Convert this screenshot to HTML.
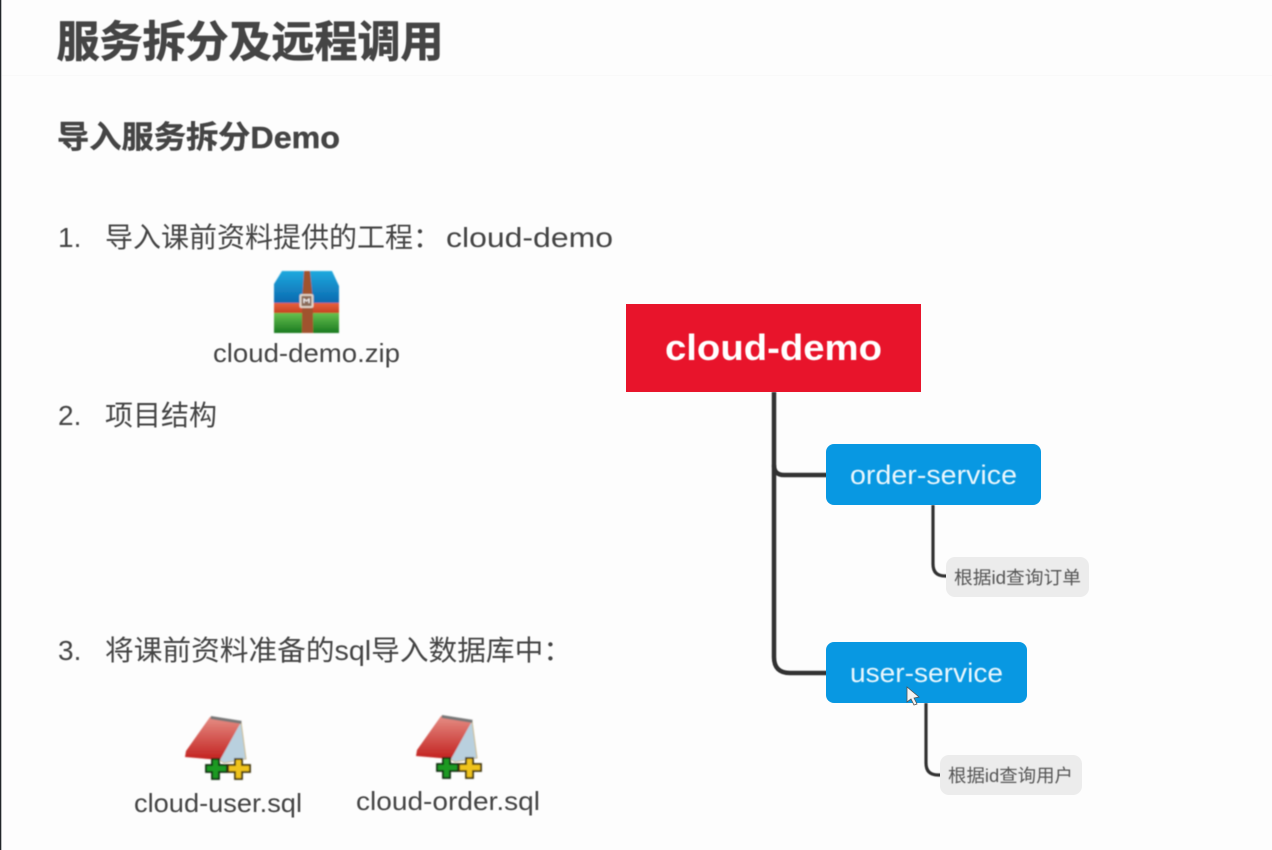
<!DOCTYPE html>
<html lang="zh">
<head>
<meta charset="utf-8">
<title>服务拆分及远程调用</title>
<style>
html,body{margin:0;padding:0;background:#fdfdfd;}
svg{display:block;}
text{font-family:"Liberation Sans","Noto Sans CJK SC",sans-serif;}
</style>
</head>
<body>
<svg width="1272" height="850" viewBox="0 0 1272 850" xmlns="http://www.w3.org/2000/svg">
<defs>
<filter id="b" x="-5%" y="-20%" width="110%" height="140%"><feGaussianBlur stdDeviation="0.6"/></filter>
<filter id="b2" x="-10%" y="-10%" width="120%" height="120%"><feGaussianBlur stdDeviation="0.7"/></filter>
<linearGradient id="blue" x1="0" y1="0" x2="0" y2="1"><stop offset="0" stop-color="#1fa9de"/><stop offset="1" stop-color="#0a66ae"/></linearGradient>
<linearGradient id="red2" x1="0" y1="0" x2="0" y2="1"><stop offset="0" stop-color="#e8603c"/><stop offset="1" stop-color="#c23e20"/></linearGradient>
<linearGradient id="green" x1="0" y1="0" x2="0" y2="1"><stop offset="0" stop-color="#66c04e"/><stop offset="1" stop-color="#1a7a20"/></linearGradient>
<linearGradient id="note" x1="0" y1="0" x2="0" y2="1"><stop offset="0" stop-color="#e58d84"/><stop offset="1" stop-color="#c2201e"/></linearGradient>
<g id="noteicon">
  <polygon points="241,722 246,759 224,763 216,758" fill="#b9d0de" stroke="#c9b98c" stroke-width="1"/>
  <polygon points="210,717 241,722 220,760 185,757 186,751" fill="url(#note)"/>
  <rect x="211" y="716" width="31" height="3" fill="#777" transform="rotate(9 211 716)"/>
  <path d="M212 759h7v6h8v7h-8v7h-7v-7h-6v-7h6z" fill="#1f9a22" stroke="#0c2a10" stroke-width="1.8"/>
  <path d="M235 759h7v6h8v7h-8v7h-7v-7h-7v-7h7z" fill="#efc31e" stroke="#3d3008" stroke-width="1.8"/>
</g>
</defs>

<rect width="1272" height="850" fill="#fdfdfd"/>
<rect x="0" y="0" width="1.3" height="850" fill="#22262a"/>
<rect x="2" y="75" width="1270" height="1" fill="#f9f9f9"/>

<g filter="url(#b)" fill="#454545">
  <text x="56.5" y="57" font-size="43" font-weight="700" stroke="#454545" stroke-width="0.7" textLength="387" lengthAdjust="spacingAndGlyphs">服务拆分及远程调用</text>
  <text x="57" y="148" font-size="31" font-weight="700" stroke="#454545" stroke-width="0.4" textLength="283" lengthAdjust="spacingAndGlyphs">导入服务拆分Demo</text>
  <text x="58" y="247" font-size="28">1.</text>
  <text x="105" y="247" font-size="28">导入课前资料提供的工程&#xFF1A;</text>
  <text x="446" y="247" font-size="28" textLength="167" lengthAdjust="spacingAndGlyphs">cloud-demo</text>
  <text x="58" y="425" font-size="28">2.</text>
  <text x="105" y="425" font-size="28" textLength="112" lengthAdjust="spacingAndGlyphs">项目结构</text>
  <text x="58" y="660" font-size="28">3.</text>
  <text x="105" y="660" font-size="28" textLength="467" lengthAdjust="spacingAndGlyphs">将课前资料准备的sql导入数据库中&#xFF1A;</text>
  <text x="213" y="362" font-size="26" textLength="187" lengthAdjust="spacingAndGlyphs">cloud-demo.zip</text>
  <text x="134" y="812" font-size="26" textLength="168" lengthAdjust="spacingAndGlyphs">cloud-user.sql</text>
  <text x="356" y="810" font-size="26" textLength="184" lengthAdjust="spacingAndGlyphs">cloud-order.sql</text>
</g>

<!-- archive icon -->
<g filter="url(#b2)">
  <path d="M282 271h50l7 15v18h-65v-20z" fill="url(#blue)"/>
  <rect x="274" y="303" width="65" height="11" fill="url(#red2)"/>
  <rect x="274" y="313" width="65" height="20" fill="url(#green)"/>
  <path d="M304 271h6l3 30v32h-11v-32z" fill="#a0522d"/>
  <rect x="300.5" y="295" width="12" height="12" rx="1" fill="#8a6a58" stroke="#eadfd2" stroke-width="1.8"/>
  <path d="M304 303v-4l2.5 2 2.5-2v4" stroke="#fff" stroke-width="1" fill="none"/>
</g>

<!-- note icons -->
<g filter="url(#b2)">
  <use href="#noteicon"/>
  <use href="#noteicon" x="231" y="-1"/>
</g>

<!-- connectors -->
<g fill="none" stroke="#333333" filter="url(#b)">
  <path d="M774 392V657Q774 673 790 673H828" stroke-width="4.5"/>
  <path d="M774 465Q774 475 784 475H828" stroke-width="4.5"/>
  <path d="M933 505V564Q933 576 945 576H948" stroke-width="3.2"/>
  <path d="M926 703V763Q926 775 938 775H942" stroke-width="3.2"/>
</g>

<!-- nodes -->
<rect x="626" y="304" width="295" height="88" fill="#e8142b"/>
<rect x="826" y="444" width="215" height="61" rx="8" fill="#0898e2"/>
<rect x="826" y="642" width="201" height="61" rx="8" fill="#0898e2"/>
<rect x="946" y="557" width="143" height="40" rx="9" fill="#ececec"/>
<rect x="940" y="755" width="142" height="40" rx="9" fill="#ececec"/>

<g filter="url(#b)">
  <text x="665" y="360" font-size="36" font-weight="700" fill="#ffffff" textLength="217" lengthAdjust="spacingAndGlyphs">cloud-demo</text>
  <text x="850" y="484" font-size="27" fill="#e8f6fd" textLength="167" lengthAdjust="spacingAndGlyphs">order-service</text>
  <text x="850" y="682" font-size="27" fill="#e8f6fd" textLength="153" lengthAdjust="spacingAndGlyphs">user-service</text>
  <text x="954" y="584" font-size="18" fill="#555555" textLength="127" lengthAdjust="spacingAndGlyphs">根据id查询订单</text>
  <text x="948" y="782" font-size="18" fill="#555555" textLength="125" lengthAdjust="spacingAndGlyphs">根据id查询用户</text>
</g>

<!-- cursor -->
<path d="M907 687v15l4-3 3 6 3-1-3-6 5-1z" fill="#f4f4f4" stroke="#555" stroke-width="0.8"/>
</svg>
</body>
</html>
